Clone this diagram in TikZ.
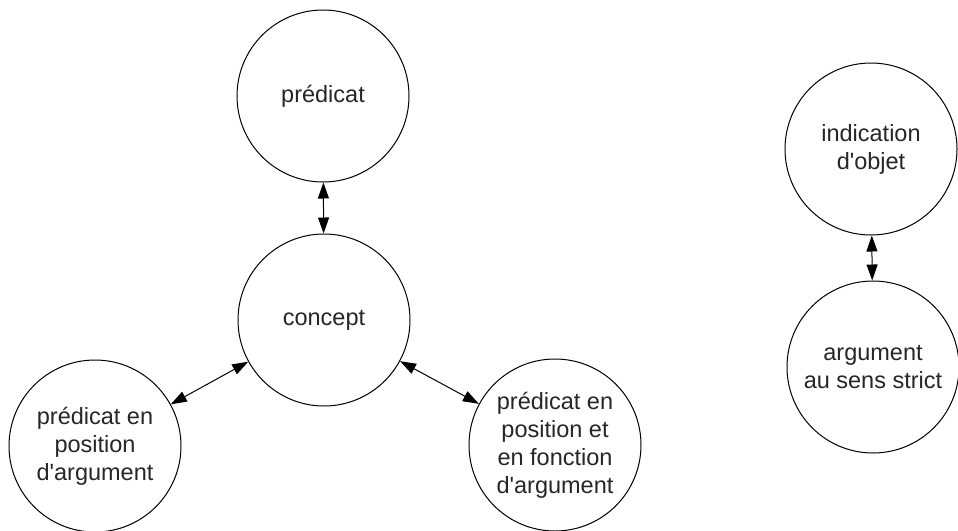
\documentclass[tikz,border=0pt]{standalone}
\usepackage{fontspec}
\setmainfont{Liberation Sans}
\usetikzlibrary{arrows.meta}
\newcommand{\apo}{\textquotesingle}
\begin{document}
\begin{tikzpicture}[x=1pt,y=-1pt,
  bubble/.style={draw=black,line width=1pt,circle,minimum size=172pt,inner sep=0pt,align=center,
    font=\fontsize{23.5pt}{28pt}\selectfont,text=black!85},
  link/.style={line width=1pt,{Triangle[length=16pt,width=11pt]}-{Triangle[length=16pt,width=11pt]}}]
\useasboundingbox (0,0) rectangle (958,530);
\node[bubble] (pred) at (323,96) {prédicat};
\node[bubble] (concept) at (324,320) {concept};
\node[bubble] (left) at (95,446) {prédicat en\\position\\d\apo argument};
\node[bubble] (right) at (555,445) {prédicat en\\position et\\en fonction\\d\apo argument};
\node[bubble] (ind) at (871,149) {indication\\d\apo objet};
\node[bubble] (arg) at (873,367) {argument\\au sens strict};
\draw[link] (pred) -- (concept);
\draw[link] (left) -- (concept);
\draw[link] (concept) -- (right);
\draw[link] (ind) -- (arg);
\end{tikzpicture}
\end{document}
